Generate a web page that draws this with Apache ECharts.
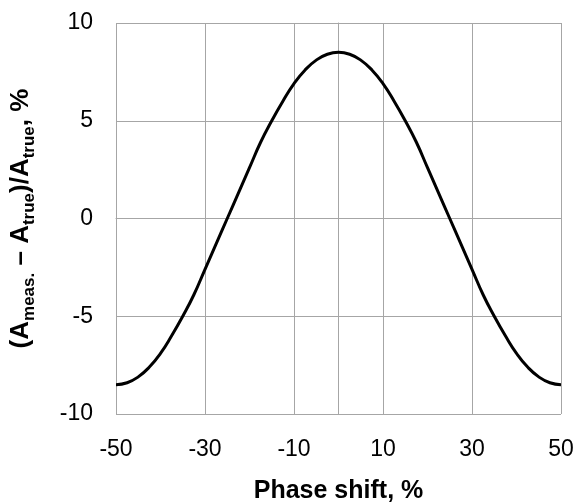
<!DOCTYPE html>
<html>
<head>
<meta charset="utf-8">
<script src="https://cdn.jsdelivr.net/npm/echarts@6/dist/echarts.min.js"></script>
<style>
  html, body { margin: 0; padding: 0; background: #fff; }
  #chart { width: 576px; height: 504px; }
</style>
</head>
<body>
<div id="chart"></div>
<script>
// phase shift (%) and relative amplitude error (%)
const phaseShift = [-50, -47.5, -45, -42.5, -40, -37.5, -35, -32.5, -30, -27.5, -25, -22.5, -20, -17.5, -15, -12.5, -10, -7.5, -5, -2.5, 0,
  2.5, 5, 7.5, 10, 12.5, 15, 17.5, 20, 22.5, 25, 27.5, 30, 32.5, 35, 37.5, 40, 42.5, 45, 47.5, 50];
const ampError = [-8.5, -8.4, -8.1, -7.6, -6.9, -6.0, -5.0, -3.9, -2.6, -1.3, 0.0, 1.3, 2.6, 3.9, 5.0, 6.0, 6.9, 7.6, 8.1, 8.4, 8.5,
  8.4, 8.1, 7.6, 6.9, 6.0, 5.0, 3.9, 2.6, 1.3, 0.0, -1.3, -2.6, -3.9, -5.0, -6.0, -6.9, -7.6, -8.1, -8.4, -8.5];

const font = "'Liberation Sans', Arial, sans-serif";
const gridColor = "#a6a6a6";

const chart = echarts.init(document.getElementById("chart"));

chart.setOption({
  animation: false,
  grid: { left: 116, right: 15, top: 23, bottom: 90, containLabel: false, outerBoundsMode: "none" },
  xAxis: {
    type: "value",
    min: -50, max: 50, interval: 20,
    name: "Phase shift, %",
    nameLocation: "middle",
    nameGap: 65,
    nameTextStyle: { fontFamily: font, fontSize: 25, fontWeight: "bold", color: "#000" },
    axisLine: { show: true, lineStyle: { color: gridColor, width: 1 } },
    axisTick: { show: false },
    axisLabel: { fontFamily: font, fontSize: 23, color: "#000", margin: 24 },
    splitLine: { show: true, lineStyle: { color: gridColor, width: 1 } },
  },
  yAxis: {
    type: "value",
    min: -10, max: 10, interval: 5,
    name: "{m|(A}{s|meas.}{m| – A}{s|true}{m|)/A}{s|true}{m|, %}",
    nameLocation: "middle",
    nameRotate: 90,
    nameGap: 82,
    nameTextStyle: {
      rich: {
        m: { fontFamily: font, fontSize: 26, fontWeight: "bold", color: "#000", verticalAlign: "bottom" },
        s: { fontFamily: font, fontSize: 17, fontWeight: "bold", color: "#000", verticalAlign: "bottom", padding: [0, 0, -4, 0] },
      },
    },
    axisLine: { show: true, lineStyle: { color: gridColor, width: 1 } },
    axisTick: { show: false },
    axisLabel: { fontFamily: font, fontSize: 23, color: "#000", margin: 23 },
    splitLine: { show: true, lineStyle: { color: gridColor, width: 1 } },
  },
  series: [
    {
      type: "line",
      data: phaseShift.map((x, i) => [x, ampError[i]]),
      smooth: 0.5,
      symbol: "none",
      lineStyle: { color: "#000", width: 3 },
    },
  ],
});
</script>
</body>
</html>
